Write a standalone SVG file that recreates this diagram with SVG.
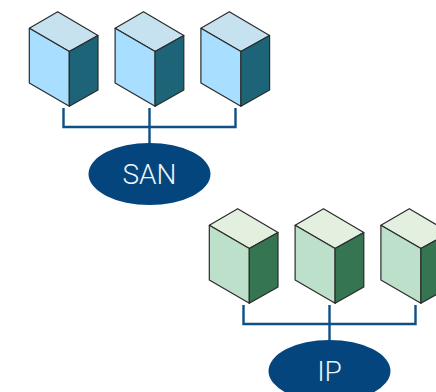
<svg xmlns="http://www.w3.org/2000/svg" width="436" height="392" viewBox="0 0 436 392">
<style>
.e{stroke:#2b2b2b;stroke-width:1.2;stroke-linejoin:round}
.bt{fill:#c6e2f0}.bl{fill:#a8deff}.br{fill:#1e6478}
.gt{fill:#e3f0e0}.gl{fill:#bde0ca}.gr{fill:#357552}
.c{fill:none;stroke:#0f4f85;stroke-width:2.4}
.o{fill:#03457c}
.t{fill:#eef4f9;font-family:Roboto,"Liberation Sans",sans-serif;font-weight:300;font-size:28px;text-anchor:middle}
</style>
<defs>
<g id="blue"><path class="e bt" d="M29.3 28.3L57.7 11.7L98 35.5L69.3 51.5Z"/><path class="e bl" d="M29.3 28.3L69.3 51.5V106.3L29.3 83Z"/><path class="e br" d="M69.3 51.5L98 35.5V90L69.3 106.3Z"/></g>
<g id="green"><path class="e gt" d="M29.3 28.3L57.7 11.7L98 35.5L69.3 51.5Z"/><path class="e gl" d="M29.3 28.3L69.3 51.5V106.3L29.3 83Z"/><path class="e gr" d="M69.3 51.5L98 35.5V90L69.3 106.3Z"/></g>
</defs>
<g id="connectors">
<path class="c" d="M63.5 108V127H235.5V108M149.5 108V144"/>
<path class="c" d="M243.5 305V324H415.5V305M329.5 305V341"/>
</g>
<g id="server-b1"><use href="#blue"/></g>
<g id="server-b2"><use href="#blue" x="85.8"/></g>
<g id="server-b3"><use href="#blue" x="171.6"/></g>
<g id="san"><ellipse class="o" cx="149.5" cy="174" rx="61" ry="31"/><text class="t" x="149.5" y="183.5">SAN</text></g>
<g id="server-g1"><use href="#green" x="180" y="197"/></g>
<g id="server-g2"><use href="#green" x="265.8" y="197"/></g>
<g id="server-g3"><use href="#green" x="351.6" y="197"/></g>
<g id="ip"><ellipse class="o" cx="329.5" cy="371" rx="61" ry="31"/><text class="t" x="329.5" y="380.5">IP</text></g>
</svg>
